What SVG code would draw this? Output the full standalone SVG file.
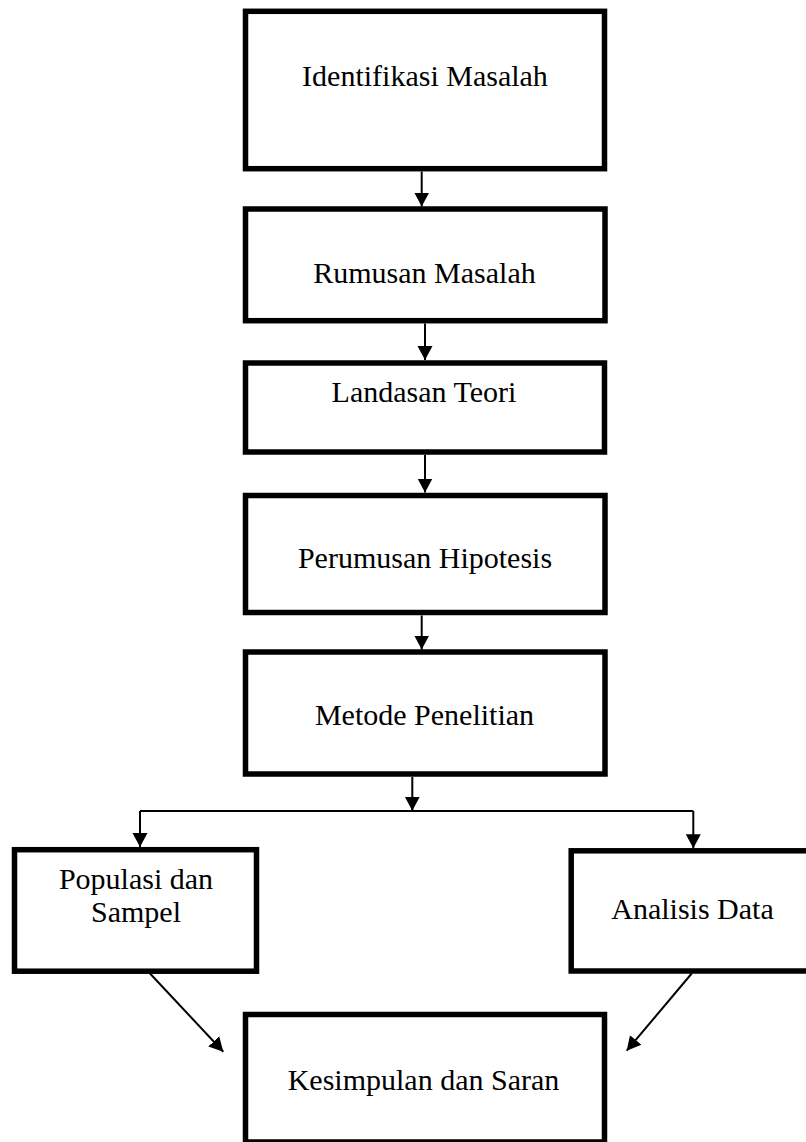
<svg xmlns="http://www.w3.org/2000/svg" width="806" height="1142" viewBox="0 0 806 1142">
<style>
.box{fill:#fff;stroke:#000;stroke-width:5.5}
.lbl{font-family:"Liberation Serif","Times New Roman",serif;font-size:30px;fill:#000;text-anchor:middle}
.con{fill:none;stroke:#000;stroke-width:2}
</style>
<defs>
<marker id="ah" markerUnits="userSpaceOnUse" markerWidth="15" markerHeight="16" refX="14" refY="8" orient="auto">
<path d="M0,0.5 L14,8 L0,15.5 z" fill="#000"/>
</marker>
</defs>
<rect width="806" height="1142" fill="#fff"/>
<g id="connectors">
<path class="con" d="M421.7,171.5 V206.5" marker-end="url(#ah)"/>
<path class="con" d="M425,323.5 V360" marker-end="url(#ah)"/>
<path class="con" d="M425,455 V492.5" marker-end="url(#ah)"/>
<path class="con" d="M421.7,615.5 V649.5" marker-end="url(#ah)"/>
<path class="con" d="M412.3,777 V810.7" marker-end="url(#ah)"/>
<path class="con" d="M140,811 H693.3"/>
<path class="con" d="M140,811 V847" marker-end="url(#ah)"/>
<path class="con" d="M693.3,811 V848.3" marker-end="url(#ah)"/>
<path class="con" d="M150,973.5 L223.3,1051.7" marker-end="url(#ah)"/>
<path class="con" d="M691.7,973.5 L626.7,1050.7" marker-end="url(#ah)"/>
</g>
<g id="n1"><rect class="box" x="245.5" y="11.3" width="359" height="157.4"/><text class="lbl" x="425" y="86">Identifikasi Masalah</text></g>
<g id="n2"><rect class="box" x="245.5" y="209" width="359.5" height="111.7"/><text class="lbl" x="424.5" y="283.3">Rumusan Masalah</text></g>
<g id="n3"><rect class="box" x="245.5" y="363" width="359" height="89"/><text class="lbl" x="424" y="401.7">Landasan Teori</text></g>
<g id="n4"><rect class="box" x="245.5" y="495.5" width="359.5" height="117"/><text class="lbl" x="425" y="568.3">Perumusan Hipotesis</text></g>
<g id="n5"><rect class="box" x="245.5" y="652" width="359.5" height="122"/><text class="lbl" x="424.5" y="725">Metode Penelitian</text></g>
<g id="n6"><rect class="box" x="14.5" y="849.7" width="242" height="121.5"/><text class="lbl" x="136" y="889"><tspan x="136">Populasi dan</tspan><tspan x="136" y="922">Sampel</tspan></text></g>
<g id="n7"><rect class="box" x="571.2" y="850.8" width="240" height="120.2"/><text class="lbl" x="692.5" y="919.3">Analisis Data</text></g>
<g id="n8"><rect class="box" x="245.5" y="1014.5" width="359" height="127.5"/><text class="lbl" x="423.5" y="1090">Kesimpulan dan Saran</text></g>
</svg>
